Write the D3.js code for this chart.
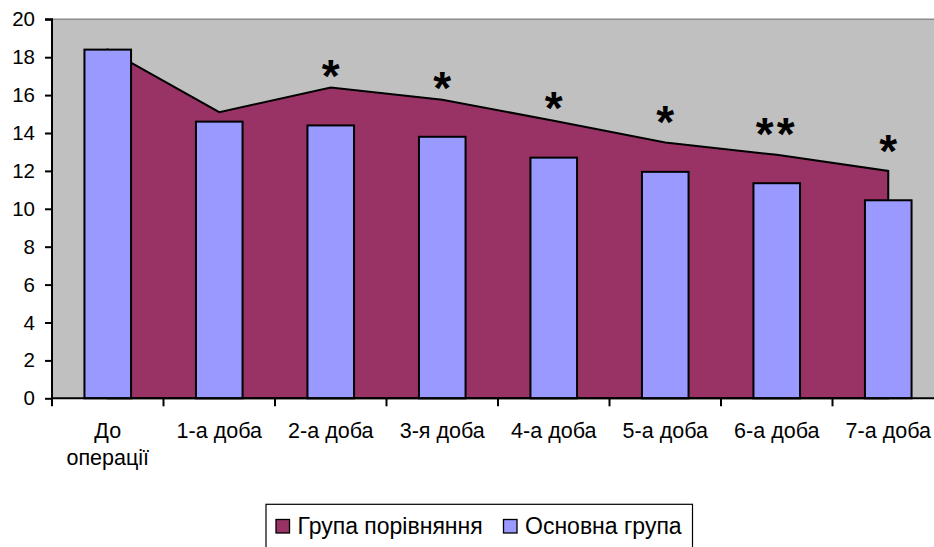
<!DOCTYPE html>
<html><head><meta charset="utf-8">
<script src="https://cdn.jsdelivr.net/npm/d3@7"></script>
<style>body{margin:0;background:#fff}svg{display:block}text{font-family:"Liberation Sans",Arial,sans-serif}</style>
</head><body>
<svg id="c" width="934" height="547"></svg>
<script>
const categories = ["До|операції","1-а доба","2-а доба","3-я доба","4-а доба","5-а доба","6-а доба","7-а доба"];
const comparisonGroup = [18.4, 15.1, 16.4, 15.75, 14.65, 13.5, 12.85, 12.0];
const mainGroup = [18.4, 14.6, 14.4, 13.8, 12.7, 11.95, 11.35, 10.45];
const markTexts = ["", "", "*", "*", "*", "*", "**", "*"];
const markLevels = [null, null, 17.5, 16.85, 15.8, 15.05, 14.4, 13.5];
const yTicks = [0,2,4,6,8,10,12,14,16,18,20];
const seriesNames = ["Група порівняння", "Основна група"];
const colors = {area:"#993366", bar:"#9999FF", plot:"#C0C0C0"};

const svg = d3.select("#c");
const L = 52, R = 944, T = 19.3, B = 398.3;
const x = d3.scaleBand().domain(categories).range([L, R]).padding(0);
const xb = d3.scaleBand().domain(categories).range([L, R]).paddingInner(0.582).paddingOuter(0.291);
const y = d3.scaleLinear().domain([0, 20]).range([B, T]);
const cx = c => x(c) + x.bandwidth()/2;

svg.append("rect").attr("x", L).attr("y", T).attr("width", R-L).attr("height", B-T).attr("fill", colors.plot);
svg.append("line").attr("x1", L).attr("x2", R).attr("y1", T).attr("y2", T).attr("stroke", "#8a8a8a").attr("stroke-width", 1.5);

const data = categories.map((c,i) => ({c, a: comparisonGroup[i], b: mainGroup[i], m: markTexts[i], l: markLevels[i]}));

const area = d3.area().x(d => cx(d.c)).y0(y(0)).y1(d => y(d.a));
svg.append("path").datum(data).attr("d", area).attr("fill", colors.area)
  .attr("stroke", "#000").attr("stroke-width", 2).attr("stroke-linejoin", "miter");

svg.selectAll("rect.bar").data(data).join("rect").attr("class", "bar")
  .attr("x", d => xb(d.c)).attr("width", xb.bandwidth())
  .attr("y", d => y(d.b)).attr("height", d => y(0) - y(d.b))
  .attr("fill", colors.bar).attr("stroke", "#000").attr("stroke-width", 2);

// axes
const ya = d3.axisLeft(y).tickValues(yTicks).tickSize(7).tickPadding(10).tickFormat(d3.format("d"));
const gy = svg.append("g").attr("transform", `translate(${L},0)`).call(ya);
gy.select(".domain").attr("stroke", "#000").attr("stroke-width", 2).attr("d", `M-7,${T}H0V${B}`);
gy.selectAll(".tick line").attr("stroke", "#000").attr("stroke-width", 2);
gy.selectAll(".tick text").attr("font-size", 20.5).attr("fill", "#000").attr("font-family", "Liberation Sans, Arial, sans-serif");

const gx = svg.append("g").attr("transform", `translate(0,${B})`);
gx.append("line").attr("x1", L).attr("x2", R).attr("y1", 0).attr("y2", 0).attr("stroke", "#000").attr("stroke-width", 2);
const bounds = categories.map(c => x(c)).concat([R]);
gx.selectAll("line.t").data(bounds).join("line").attr("class","t")
  .attr("x1", d => d).attr("x2", d => d).attr("y1", 0).attr("y2", 8).attr("stroke", "#000").attr("stroke-width", 2);
gx.selectAll("text.cat").data(categories).join("text").attr("class","cat")
  .attr("text-anchor", "middle").attr("font-size", 21.5).attr("fill", "#000")
  .each(function(c){
    const parts = c.split("|");
    d3.select(this).selectAll("tspan").data(parts).join("tspan")
      .attr("x", cx(c)).attr("y", (p,i) => 40 + i*27).text(p => p);
  });

// significance marks
svg.selectAll("text.mark").data(data.filter(d => d.m)).join("text").attr("class","mark")
  .attr("x", d => cx(d.c)).attr("y", d => y(d.l) + 25)
  .attr("text-anchor", "middle").attr("font-size", 46).attr("font-weight", "bold")
  .attr("letter-spacing", d => d.m.length > 1 ? 3 : 0)
  .attr("fill", "#000").text(d => d.m);

// legend
const lg = svg.append("g");
lg.append("rect").attr("x", 266).attr("y", 504.3).attr("width", 426.5).attr("height", 50)
  .attr("fill", "#fff").attr("stroke", "#000").attr("stroke-width", 1.2);
const legItems = [{n: seriesNames[0], col: colors.area, x: 276}, {n: seriesNames[1], col: colors.bar, x: 503.5}];
legItems.forEach(it => {
  lg.append("rect").attr("x", it.x).attr("y", 519.5).attr("width", 13.5).attr("height", 13.5)
    .attr("fill", it.col).attr("stroke", "#000").attr("stroke-width", 1.3);
  lg.append("text").attr("x", it.x + 21.5).attr("y", 534).attr("font-size", 23).attr("fill", "#000").text(it.n);
});
</script>
</body></html>
